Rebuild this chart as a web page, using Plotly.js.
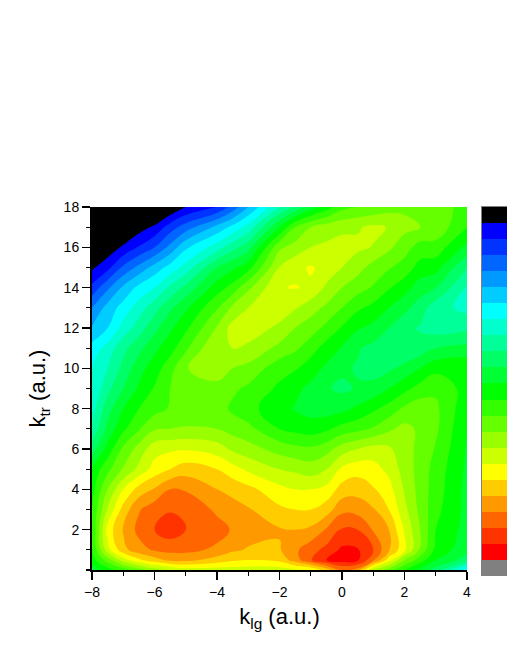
<!DOCTYPE html>
<html><head><meta charset="utf-8">
<script src="https://cdn.plot.ly/plotly-3.0.1.min.js"></script>
<style>html,body{margin:0;padding:0;background:#fff;overflow:hidden}</style>
</head><body><div id="chart" style="width:507px;height:656px"></div>
<script>
var kLg = [-8,-7.5,-7,-6.5,-6,-5.5,-5,-4,-3.5,-3,-2,-1.5,-1,-0.5,0,0.5,1,1.5,2,2.5,3,4];
var kTr = [0,0.5,1,2,3,4,5,6,7,8,9,10,11,12,13,14,15,16,17,18];
var r0  = [9.5,10.5,11.5,12.5,13.5,14,14.5,14.5,14.5,14.5,14.5,14.8,15,16.5,18,17.5,14,12.5,11,9.7,8.5,5];
var r05 = [10.5,12.5,14.5,15.8,16.6,17.3,17.3,16.6,16.2,16,16.3,17.5,18.9,20,20.5,20.2,18.2,15.5,13,11.5,10,8.5];
var r1  = [10.9,14.6,16.7,17.6,18.15,18.3,18.3,17.8,17.2,16.9,16.9,17.8,18.6,19.3,20.2,20.1,19,17.1,15.2,12.8,10.7,9.3];
var r2  = [11,15.4,17.1,18.3,19,19.6,19.05,18.4,17.9,17.5,17.1,17,17.2,18.1,19.1,19,17.9,17,14.9,13,11,9.6];
var r3  = [11,14.1,16.4,17.9,18.6,18.9,18.8,17.8,17.4,17.1,16.2,16,16,16.5,17.7,17.6,17.1,16,14.3,12.7,11.3,9.7];
var r4  = [10.6,13,15,16.4,17.1,18,17.9,17,16.7,16.3,15.3,15,15,15.3,16.4,16.6,16.1,15.4,13.9,12.6,11.5,9.7];
var r5  = [10.2,11.7,13.1,14.3,15.4,16,16.5,16,15.4,14.8,14,13.8,13.5,14,15.2,15.6,15.4,14.7,13.6,12.6,11.6,9.8];
var r6  = [8.5,10.4,12.2,13.4,14.6,14.8,14.9,14.5,13.8,13.4,12.6,12.3,12.2,12.6,13.5,14,14.4,14.2,13.3,12.8,11.9,9.9];
var r7  = [7.2,9.3,10.8,11.9,12.9,13,13.1,13,12.6,12.3,11,10.7,10.5,10.8,11.4,11.7,12.1,12.8,13.3,12.8,12.2,10];
var r8  = [6.6,8.6,10,11,11.6,12.1,12.3,12.5,11.8,11.3,10.4,9.9,9.6,9.5,9.7,10.2,10.8,11.4,12.2,12.6,12.2,10.3];
var r9  = [6,7.7,9,10.15,11.1,12,12.3,12.7,12.2,11.8,10.8,10.3,9.7,9.1,8.8,9.1,9.3,10,10.7,11.4,11.8,10.6];
var r10 = [6,7,8.3,9.6,10.5,11.6,12.95,13.5,13,12.7,11.4,11.1,10.5,9.8,9.2,8.9,8.6,8.8,9.3,10,10.7,10.9];
var r11 = [5.4,6.4,7.7,8.7,9.75,10.6,11.8,14.05,14,13.8,12.7,12.2,11.4,10.6,9.9,9.1,8.7,8.1,8.1,8.4,9,9.3];
var r12 = [4.1,5,6.4,7.5,8.7,9.8,10.8,13.1,14.4,14.5,13.8,13,12.5,11.7,10.9,10.1,9.7,9,8.2,7.9,7.5,7.8];
var r13 = [3,4.4,5.4,6.5,7.6,8.8,9.8,11.9,13.2,14,14.5,14.1,13.4,12.8,12,11.2,10.7,10,9.3,8.5,7.4,6.7];
var r14 = [1.3,2.8,4.2,5.3,6,7.2,8.3,10.5,11.4,12.8,14.95,15.05,14.85,13.8,13,12.4,11.9,11.1,10.4,9.5,9,6.9];
var r15 = [-0.2,0.7,2.2,3.3,4.4,5.4,6.4,9,9.8,10.6,14.05,14.75,15.1,14.7,14,13.4,12.6,12.1,11.6,10.6,10.4,8];
var r16 = [-1.5,-0.7,0.2,1.1,2,3.3,4.8,6.5,7.6,8.6,12.8,13.4,14,14.2,14.5,14.2,13.95,13.2,12.4,11.6,11.6,9.7];
var r17 = [-4,-3,-1.5,-0.5,0.2,1.5,2.5,4.3,5.3,6.4,10,12,13,13.5,13.7,13.9,14.2,13.95,13.3,13,12.7,11];
var r18 = [-7,-6,-4.5,-3.2,-2,-1,0,1,2.4,4,7,8.2,9.5,10.5,11.7,12,12.2,12.6,12.8,12.8,12.4,11.7];
var bandColors = ['#000000','#0000ff','#0033ff','#0066ff','#0099ff','#00ccff','#00ffff','#00ffcc','#00ff99','#00ff66','#00ff33','#00ff00','#33ff00','#66ff00','#99ff00','#ccff00','#ffff00','#ffcc00','#ff9900','#ff6600','#ff3300','#ff0000','#808080'];
var barLevels = [-0.5,0.5,1.5,2.5,3.5,4.5,5.5,6.5,7.5,8.5,9.5,10.5,11.5,12.5,13.5,14.5,15.5,16.5,17.5,18.5,19.5,20.5,21.5];
var xTicks = [-8,-6,-4,-2,0,2,4];
var yTicks = [2,4,6,8,10,12,14,16,18];

var zGrid = [r0,r05,r1,r2,r3,r4,r5,r6,r7,r8,r9,r10,r11,r12,r13,r14,r15,r16,r17,r18];
var scale = [];
bandColors.forEach(function(c,i){
  scale.push([i/bandColors.length,c]);
  scale.push([(i+1)/bandColors.length,c]);
});
var font = 'Liberation Sans, Arial, sans-serif';
var W = 507, H = 656, L = 92, T = 207, BOT = 576;
var plotW = W - L, plotH = BOT - T;
Plotly.newPlot('chart',[{
  type:'contour', x:kLg, y:kTr, z:zGrid,
  zauto:false, zmin:-1, zmax:22, autocontour:false, showscale:false,
  contours:{start:0,end:21,size:1,coloring:'fill',showlines:false},
  line:{width:0,smoothing:1.3},
  colorscale:scale
},{
  type:'heatmap', xaxis:'x2', yaxis:'y2', x:[0], y:barLevels, z:barLevels.map(function(v){return [v];}),
  zauto:false, zmin:-1, zmax:22, showscale:false, colorscale:scale, xgap:0, ygap:0
}],{
  width:W,height:H,paper_bgcolor:'#fff',plot_bgcolor:'#fff',
  margin:{l:L,r:0,t:T,b:H-BOT,pad:0},
  showlegend:false,
  xaxis:{domain:[0,375/plotW],anchor:'y',range:[-8,4],tickvals:xTicks,ticks:'outside',ticklen:8,tickwidth:1.4,tickcolor:'#000',
    showline:true,linecolor:'#000',linewidth:2,zeroline:false,showgrid:false,
    tickfont:{family:font,size:14,color:'#000'},
    minor:{dtick:1,ticks:'outside',ticklen:4,tickwidth:1.3,tickcolor:'#000',showgrid:false},
    title:{text:'k<sub>lg</sub> (a.u.)',font:{family:font,size:22,color:'#000'},standoff:10}},
  yaxis:{domain:[6/plotH,1],anchor:'x',range:[0,18],tickvals:yTicks,ticks:'outside',ticklen:8,tickwidth:1.4,tickcolor:'#000',
    showline:true,linecolor:'#000',linewidth:2,zeroline:false,showgrid:false,
    tickfont:{family:font,size:14,color:'#000'},
    minor:{dtick:1,ticks:'outside',ticklen:4,tickwidth:1.3,tickcolor:'#000',showgrid:false},
    title:{text:'k<sub>tr</sub> (a.u.)',font:{family:font,size:22,color:'#000'},standoff:12}},
  xaxis2:{domain:[(481.5-L)/plotW,1],anchor:'y2',side:'top',range:[-0.5,0.5],showticklabels:false,ticks:'',showgrid:false,zeroline:false,
    showline:true,linecolor:'#808080',linewidth:1},
  yaxis2:{domain:[0,1],anchor:'x2',range:[22,-1],showticklabels:false,ticks:'',showgrid:false,zeroline:false,
    showline:true,linecolor:'#808080',linewidth:1}
},{displayModeBar:false,staticPlot:true});
</script></body></html>
